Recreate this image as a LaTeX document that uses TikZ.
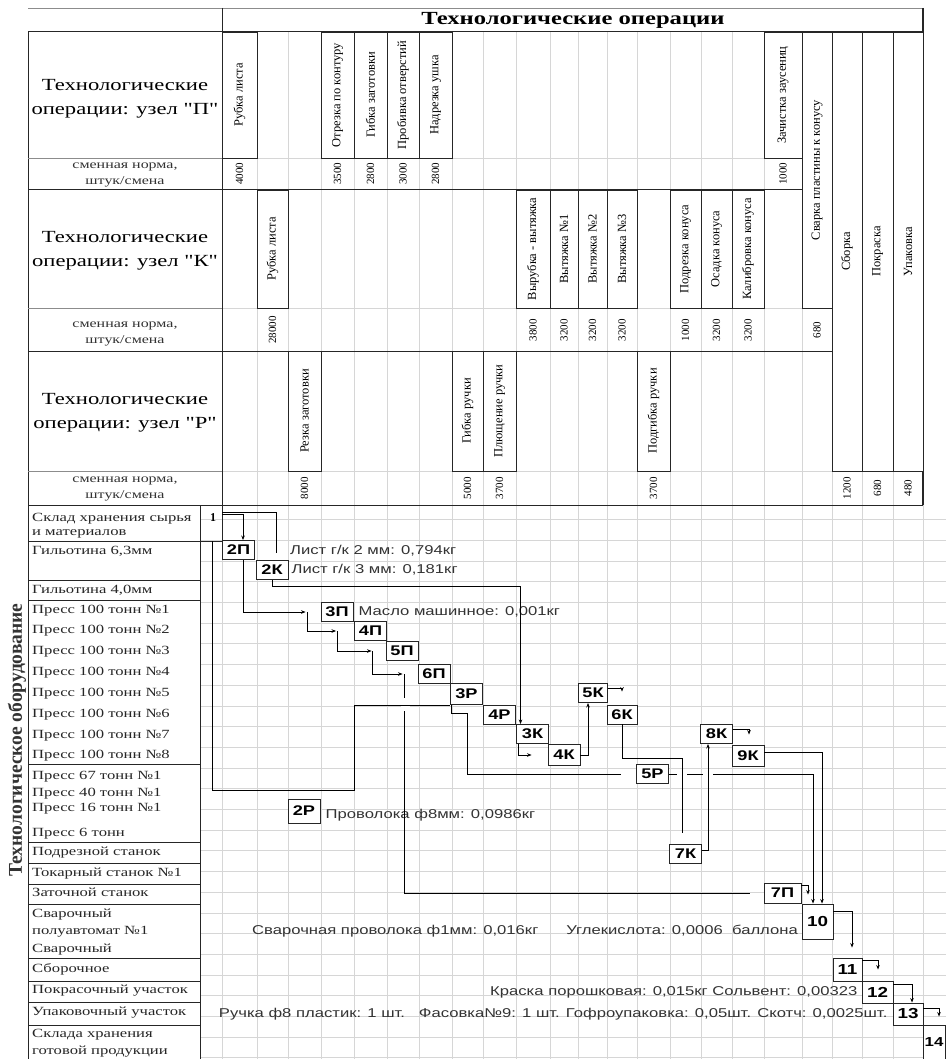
\documentclass[tikz,border=0pt]{standalone}
\usepackage{fontspec}
\setmainfont{Liberation Serif}
\newfontfamily\serifwide{Liberation Serif}[FakeStretch=1.33]
\newfontfamily\sanswide{Liberation Sans}[FakeStretch=1.3]
\usepackage{tikz}
\usetikzlibrary{arrows.meta, positioning}

\begin{document}
\begin{tikzpicture}[
        x=1pt, y=-1pt,
        gridline/.style={draw=black!16, line width=0.6pt},
        tabline/.style={draw=black!85, line width=1pt},
        thinline/.style={draw=black!45, line width=0.7pt},
        opbox/.style={draw=black!85, fill=white, line width=0.9pt},
        optext/.style={rotate=90, inner sep=0pt, font=\fontsize{12.5}{14}\selectfont},
        normtext/.style={rotate=90, inner sep=0pt, font=\fontsize{11}{12}\selectfont},
        rowtitle/.style={align=center, inner sep=0pt, font=\serifwide\fontsize{17}{24}\selectfont},
        normlabel/.style={align=center, inner sep=0pt, text=black!80, font=\serifwide\fontsize{12}{16}\selectfont},
        equip/.style={anchor=west, align=left, inner sep=0pt, text=black!85, font=\serifwide\fontsize{12.5}{14}\selectfont},
        stepbox/.style={draw=black!85, fill=white, line width=0.9pt, inner sep=0pt, minimum width=32pt, minimum height=19pt, font=\sanswide\bfseries\fontsize{14}{14}\selectfont},
        numbox/.style={stepbox, font=\sanswide\bfseries\fontsize{14.5}{15}\selectfont},
        matlabel/.style={inner sep=0pt, text=black!80, font=\sanswide\fontsize{12.8}{14}\selectfont},
        arrow/.style={-{Stealth[length=4.5pt, width=3.5pt]}, line width=0.8pt},
        link/.style={line width=0.8pt}
    ]
        \fill[white] (0,0) rectangle (946,1059);
        \useasboundingbox (0,0) rectangle (946,1059);

        % Grid
        \foreach \gx in {222,257,288,321,354,387,419,452,483,516,550,578,607,637,670,701,732,764,802,832,862,893,923}
            \draw[gridline] (\gx,32) -- (\gx,1059);
        \foreach \k in {0,...,26}
            \draw[gridline] (200,{519.5+20.7*\k}) -- (946,{519.5+20.7*\k});
        \foreach \gy in {158,308,471}
            \draw[gridline] (222,\gy) -- (923,\gy);

        % Table
        \draw[thinline] (28,8) -- (923,8);
        \draw[tabline] (28,32) -- (923,32);
        \draw[tabline] (222,8) -- (222,541);
        \draw[tabline, line width=1.4pt] (923,8) -- (923,505);
        \draw[tabline] (28,32) -- (28,1059);
        \foreach \gy in {190,351,505}
            \draw[tabline] (28,\gy) -- (923,\gy);
        \foreach \gy in {158,308,471}
            \draw[thinline] (28,\gy) -- (222,\gy);
        \draw[tabline] (200,505) -- (200,1059);
        \draw[tabline] (28,541) -- (222,541);
        \foreach \gy in {580,600,764,842,863,884,904,958,981,1002,1025}
            \draw[tabline] (28,\gy) -- (200,\gy);

        % Operations
        \foreach \xa/\xb/\ya/\yb/\opname/\norm/\ny [count=\i] in {
            222/257/32/158/Рубка листа/4000/174,
            321/354/32/158/Отрезка по контуру/3500/174,
            354/387/32/158/Гибка заготовки/2800/174,
            387/419/32/158/Пробивка отверстий/3000/174,
            419/452/32/158/Надрезка ушка/2800/174,
            764/802/32/158/Зачистка заусениц/1000/174,
            257/288/190/308/Рубка листа/28000/330,
            516/550/190/308/Вырубка - вытяжка/3800/330,
            550/578/190/308/Вытяжка №1/3200/330,
            578/607/190/308/Вытяжка №2/3200/330,
            607/637/190/308/Вытяжка №3/3200/330,
            670/701/190/308/Подрезка конуса/1000/330,
            701/732/190/308/Осадка конуса/3200/330,
            732/764/190/308/Калибровка конуса/3200/330,
            802/832/32/308/Сварка пластины к конусу/680/330,
            288/321/351/471/Резка заготовки/8000/488,
            452/483/351/471/Гибка ручки/5000/488,
            483/516/351/471/Плющение ручки/3700/488,
            637/670/351/471/Подгибка ручки/3700/488,
            832/862/32/471/Сборка/1200/488,
            862/893/32/471/Покраска/680/488,
            893/923/32/471/Упаковка/480/488} {
            \draw[opbox] (\xa,\ya) rectangle (\xb,\yb);
            \node[optext] (op\i) at ({(\xa+\xb)/2},{(\ya+\yb)/2}) {\opname};
            \node[normtext] (norm\i) at ({(\xa+\xb)/2},\ny) {\norm};
        }

        % Headers
        \node[font=\serifwide\bfseries\fontsize{18.5}{20}\selectfont, inner sep=0pt] (header) at (573,20) {Технологические операции};
        \node[rowtitle] (titleP) at (125,99) {Технологические\\операции: узел "П"};
        \node[rowtitle] (titleK) at (125,251) {Технологические\\операции: узел "К"};
        \node[rowtitle] (titleR) at (125,413) {Технологические\\операции: узел "Р"};
        \node[normlabel] (normP) at (125,175) {сменная норма,\\штук/смена};
        \node[normlabel] (normK) at (125,334) {сменная норма,\\штук/смена};
        \node[normlabel] (normR) at (125,489) {сменная норма,\\штук/смена};
        \node[rotate=90, inner sep=0pt, text=black!80, font=\bfseries\fontsize{19.5}{20}\selectfont] (side) at (17,740) {Технологическое оборудование};

        % Equipment
        \node[equip, font=\serifwide\fontsize{12.5}{14}\selectfont] (store) at (32,526) {Склад хранения сырья\\и материалов};
        \node[equip] (guil63) at (32,551) {Гильотина 6,3мм};
        \node[equip] (guil40) at (32,590) {Гильотина 4,0мм};
        \foreach \k/\eqy in {1/611, 2/631, 3/652, 4/673, 5/694, 6/715, 7/736, 8/756}
            \node[equip] (press\k) at (32,\eqy) {Пресс 100 тонн №\k};
        \node[equip] (press67) at (32,777) {Пресс 67 тонн №1};
        \node[equip] (press40) at (32,794) {Пресс 40 тонн №1};
        \node[equip] (press16) at (32,809) {Пресс 16 тонн №1};
        \node[equip] (press6) at (32,834) {Пресс 6 тонн};
        \node[equip] (trim) at (32,853) {Подрезной станок};
        \node[equip] (lathe) at (32,874) {Токарный станок №1};
        \node[equip] (sharp) at (32,892) {Заточной станок};
        \node[equip, font=\serifwide\fontsize{12.5}{17.5}\selectfont] (weld) at (32,932) {Сварочный\\полуавтомат №1\\Сварочный};
        \node[equip] (assy) at (32,969) {Сборочное};
        \node[equip] (paintshop) at (32,991) {Покрасочный участок};
        \node[equip] (packshop) at (32,1013) {Упаковочный участок};
        \node[equip, font=\serifwide\fontsize{12.5}{17}\selectfont] (goods) at (32,1043) {Склада хранения\\готовой продукции};

        % Nodes
        \node[inner sep=0pt, font=\bfseries\fontsize{12}{12}\selectfont] (n1) at (213,518) {1};
        \coordinate (n1out) at (222,514);
        \coordinate (loopstart) at (212,541);
        \coordinate (loopbend) at (354,790);
        \node[stepbox] (p2) at (238.5,550) {2П};
        \node[stepbox] (k2) at (272,570) {2К};
        \node[stepbox] (p3) at (337,612) {3П};
        \node[stepbox] (p4) at (370.5,631) {4П};
        \node[stepbox] (p5) at (402,651) {5П};
        \node[stepbox] (p6) at (434,674) {6П};
        \node[stepbox, minimum height=21pt] (r3) at (466.5,694) {3Р};
        \node[stepbox] (r4) at (499.5,715) {4Р};
        \node[stepbox] (k3) at (532.5,734) {3К};
        \node[stepbox, minimum height=21pt] (k4) at (564,755) {4К};
        \node[stepbox, minimum width=29pt] (k5) at (593,693) {5К};
        \node[stepbox, minimum width=30pt] (k6) at (622,714.5) {6К};
        \node[stepbox] (r5) at (652.5,774) {5Р};
        \node[stepbox] (k7) at (685.5,854) {7К};
        \node[stepbox] (k8) at (716.5,734) {8К};
        \node[stepbox, minimum height=21pt] (k9) at (748,755.5) {9К};
        \node[stepbox, minimum width=37pt, minimum height=20pt] (p7) at (782.5,893) {7П};
        \node[stepbox, minimum height=24pt] (r2) at (304,811) {2Р};
        \node[numbox, minimum width=31pt, minimum height=35pt] (n10) at (817.5,921.5) {10};
        \node[numbox, minimum width=29pt, minimum height=23pt] (n11) at (847.5,969.5) {11};
        \node[numbox, minimum width=31pt, minimum height=22pt] (n12) at (877.5,992) {12};
        \node[numbox, minimum width=30pt, minimum height=22pt] (n13) at (908,1014) {13};
        \node[numbox, minimum width=22pt, minimum height=34pt, font=\sanswide\bfseries\fontsize{13}{14}\selectfont] (n14) at (934,1042) {14};

        % Materials
        \node[matlabel, anchor=west] (sheet2) at (290,551) {Лист г/к 2 мм: 0,794кг};
        \node[matlabel, right=3pt of k2] (sheet3) {Лист г/к 3 мм: 0,181кг};
        \node[matlabel, right=5pt of p3] (oil) {Масло машинное: 0,001кг};
        \node[matlabel, right=5pt of r2, yshift=-4pt] (wire) {Проволока ф8мм: 0,0986кг};
        \node[matlabel, anchor=west] (weldwire) at (252,931) {Сварочная проволока ф1мм: 0,016кг};
        \node[matlabel, anchor=east] (gas) at (798,931) {Углекислота: 0,0006~~баллона};
        \node[matlabel, left=4pt of n12] (paint) {Краска порошковая: 0,015кг Сольвент: 0,00323};
        \node[matlabel, left=5pt of n13] (pack) {Ручка ф8 пластик: 1 шт.~~~Фасовка№9: 1 шт. Гофроупаковка: 0,05шт. Скотч: 0,0025шт.};

        % Arrows
        \draw[arrow] (n1out) -| ([xshift=4.5pt]p2.north);
        \draw[link] ([yshift=2pt]n1out) -| ([xshift=4pt,yshift=7pt]k2.north);
        \draw[arrow] ([xshift=4.5pt]p2.south) |- ([xshift=-15pt]p3.west);
        \draw[arrow] ([xshift=-13pt]p3.west) |- ([xshift=-18pt]p4.west);
        \draw[arrow] ([xshift=-17pt]p4.west) |- ([xshift=-14pt]p5.west);
        \draw[arrow] ([xshift=-13pt]p5.west) |- ([xshift=-15pt]p6.west);
        \draw[link] ([xshift=-13pt]p6.west) |- ([xshift=-14pt]p7.west);
        \fill[white] (401,698) rectangle (410,711);
        \draw[link] (loopstart) |- (loopbend) |- (r3.south west);
        \draw[link] (r3.south west) ++(1,0) -- ++(0,8) -- ++(16,0) |- ([xshift=-15pt]r5.west);
        \draw[arrow] (k2.south) -- ++(0,6) -| ([xshift=-12pt]k3.north);
        \draw[arrow] ([xshift=2pt]k3.south west) |- ([xshift=-16pt]k4.west);
        \draw[arrow] (k4.east) -| ([xshift=-5pt]k5.south);
        \draw[arrow] ([yshift=5pt]k5.east) -| ([yshift=13pt]k6.north);
        \draw[arrow] (r5.east) -| ([xshift=-4.5pt]n10.north);
        \fill[white] (677,769) rectangle (687,779);
        \fill[white] (703,769) rectangle (713,779);
        \draw[link] (k6.south) -- ++(0,34) -| ([xshift=-3.5pt,yshift=11pt]k7.north);
        \draw[arrow] ([yshift=4pt]k7.east) -| ([xshift=-8.5pt]k8.south);
        \draw[arrow] ([yshift=5pt]k8.east) -| ([xshift=1pt,yshift=10pt]k9.north);
        \draw[arrow] ([yshift=3pt]k9.east) -| ([xshift=4.5pt]n10.north);
        \draw[arrow] ([yshift=8pt]p7.east) -| ([xshift=-9.5pt,yshift=9pt]n10.north);
        \draw[arrow] ([yshift=10pt]n10.east) -| ([xshift=4.5pt,yshift=10pt]n11.north);
        \draw[arrow] ([yshift=9pt]n11.east) -| ([xshift=0.5pt,yshift=11pt]n12.north);
        \draw[arrow] ([yshift=8pt]n12.east) -| ([xshift=4pt]n13.north);
        \draw[arrow] ([yshift=6pt]n13.east) -| ([xshift=5pt,yshift=8pt]n14.north);
    \end{tikzpicture}
\end{document}
